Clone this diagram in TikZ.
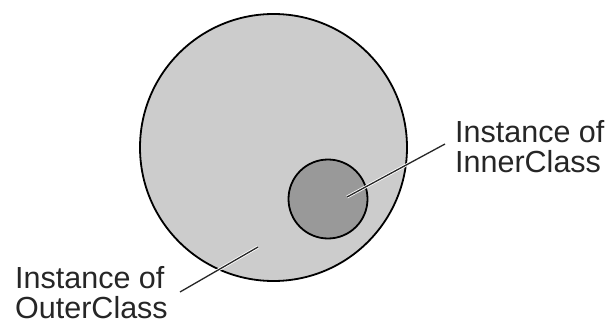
\documentclass[tikz,border=0pt]{standalone}
\usepackage{fontspec}
\setmainfont{Liberation Sans}
\begin{document}
\begin{tikzpicture}[x=1pt,y=-1pt,
  outerobj/.style={circle,draw=black,fill=black!20,line width=1.8pt,minimum size=267pt,inner sep=0pt},
  innerobj/.style={circle,draw=black,fill=black!40,line width=1.8pt,minimum size=79pt,inner sep=0pt},
  lbl/.style={font=\fontsize{30.5}{30.5}\selectfont,align=left,inner sep=0pt,text depth=0pt,anchor=base west,text=black!85},
  halo/.style={white,line width=3pt},
  leader/.style={black!85,line width=1.3pt}]
\useasboundingbox (0,0) rectangle (606,324);
\node[outerobj] (outer) at (273.5,147.5) {};
\node[innerobj] (inner) at (328,199) {};
\coordinate (inA) at (347,197);
\coordinate (inB) at (445,144);
\coordinate (outA) at (258,247);
\coordinate (outB) at (180,292);
\node[lbl] (innerlbl) at (455,172.5) {Instance of\\InnerClass};
\node[lbl] (outerlbl) at (15,318.5) {Instance of\\OuterClass};
\draw[halo] (inA) -- (inB);
\draw[leader] (inA) -- (inB);
\draw[halo] (outA) -- (outB);
\draw[leader] (outA) -- (outB);
\end{tikzpicture}
\end{document}
